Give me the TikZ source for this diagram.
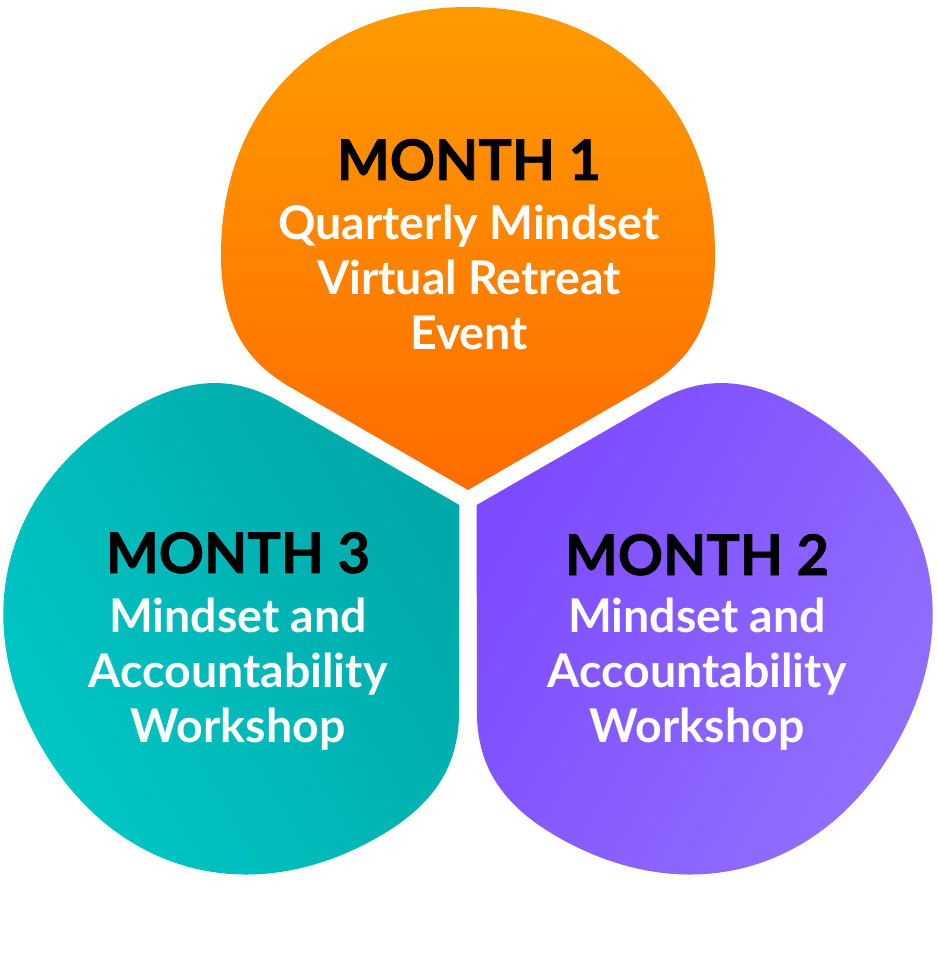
\documentclass[tikz,border=0pt]{standalone}
\usepackage{fontspec}
\setmainfont{Lato}
\usepackage{tikz}
\usetikzlibrary{shadings}
\definecolor{orangelight}{HTML}{FF9B00}
\definecolor{orangedark}{HTML}{FF6C00}
\definecolor{teallight}{HTML}{00C9C7}
\definecolor{tealdark}{HTML}{00A9A9}
\definecolor{purplelight}{HTML}{9472FF}
\definecolor{purpledark}{HTML}{7C4BFF}
\tikzset{x=1pt, y=1pt,
  monthtitle/.style={text=black, inner sep=0pt, anchor=base,
    font=\fontsize{56}{60}\selectfont\bfseries\addfontfeatures{FakeBold=1.2}},
  monthtext/.style={text=white, inner sep=0pt, anchor=base, align=center,
    font=\fontsize{46.5}{55}\selectfont\bfseries}}
% one blob, pointed corner towards the middle, turned by #1
\newcommand{\blob}[1]{([rotate=#1]0,10) -- ([rotate=#1]-178,113)
  .. controls ([rotate=#1]-221,138) and ([rotate=#1]-247,175) .. ([rotate=#1]-247,245)
  .. controls ([rotate=#1]-247,393) and ([rotate=#1]-148,493) .. ([rotate=#1]0,493)
  .. controls ([rotate=#1]148,493) and ([rotate=#1]247,393) .. ([rotate=#1]247,245)
  .. controls ([rotate=#1]247,175) and ([rotate=#1]221,138) .. ([rotate=#1]178,113)
  -- cycle}

\begin{document}
\begin{tikzpicture}
\useasboundingbox (-468,-460) rectangle (469,500);

\foreach \ang/\light/\dark in {0/orangelight/orangedark,
    120/teallight/tealdark, -120/purplelight/purpledark}
  \shade[top color=\light, bottom color=\dark, shading angle=\ang] \blob{\ang};

% base of a text node = base of its last line
\node[monthtitle] (m1) at (1,320) {MONTH 1};
\node[monthtext] (t1) at (1,150) {Quarterly Mindset\\Virtual Retreat\\Event};

\node[monthtitle] (m3) at (-230,-73) {MONTH 3};
\node[monthtext] (t3) at (-230,-242) {Mindset and\\Accountability\\Workshop};

\node[monthtitle] (m2) at (229,-75) {MONTH 2};
\node[monthtext] (t2) at (229,-242) {Mindset and\\Accountability\\Workshop};
\end{tikzpicture}
\end{document}
